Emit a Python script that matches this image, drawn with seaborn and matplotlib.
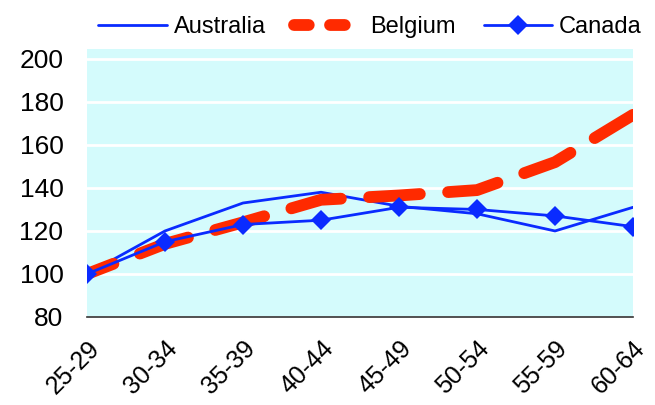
import matplotlib
matplotlib.use("Agg")
import matplotlib.pyplot as plt
from matplotlib.lines import Line2D
import seaborn as sns
import pandas as pd

age_groups = ["25-29", "30-34", "35-39", "40-44", "45-49", "50-54", "55-59", "60-64"]
australia = [100, 120, 133, 138, 131.5, 128, 120, 131]
belgium = [100, 114, 124, 134.5, 136.5, 139, 152, 174]
canada = [100, 115, 123, 125, 131, 130, 127, 122]
y_ticks = [80, 100, 120, 140, 160, 180, 200]

sns.set_theme(style="white")
plt.rcParams['font.family'] = ['Liberation Sans', 'DejaVu Sans']
plt.rcParams['text.color'] = 'black'
plt.rcParams['xtick.color'] = 'black'
plt.rcParams['ytick.color'] = 'black'

BLUE = "#0A2BFF"
RED = "#FF2A00"
BG = "#D4FBFC"

fig = plt.figure(figsize=(6.55, 4.05), dpi=100)
ax = fig.add_axes([87/655, 1-317/405, (633-87)/655, (317-49)/405])
ax.set_facecolor(BG)

df = pd.DataFrame({"age": age_groups, "Australia": australia,
                   "Belgium": belgium, "Canada": canada})

sns.lineplot(data=df, x="age", y="Australia", ax=ax, color=BLUE, lw=2.0,
             sort=False, legend=False)
sns.lineplot(data=df, x="age", y="Belgium", ax=ax, color=RED, lw=8.5,
             sort=False, legend=False)
bel = ax.lines[-1]
bel.set_linestyle((1.9, (4.3, 2.4)))
bel.set_dash_capstyle("round")
bel.set_solid_capstyle("round")
bel.set_dash_joinstyle("round")
sns.lineplot(data=df, x="age", y="Canada", ax=ax, color=BLUE, lw=2.0,
             marker="D", markersize=10.5, markeredgewidth=0,
             sort=False, legend=False)

ax.set_xlim(0, len(age_groups) - 1)
ax.set_ylim(80, 204.6)
ax.set_yticks(y_ticks)
ax.set_yticklabels([str(v) for v in y_ticks], fontsize=19, color="black")
ax.set_xlabel("")
ax.set_ylabel("")
ax.grid(axis="y", color="white", lw=2)
ax.set_axisbelow(True)
for s in ["left", "right", "top"]:
    ax.spines[s].set_visible(False)
ax.spines["bottom"].set_color("#333333")
ax.spines["bottom"].set_linewidth(1.2)
ax.tick_params(axis="y", length=0, pad=17)
ax.tick_params(axis="x", direction="in", length=5, width=1, color="#333333", pad=14)
ax.set_xticks(range(len(age_groups)))
ax.set_xticklabels(age_groups, rotation=45, ha="right", va="top",
                   rotation_mode="anchor", fontsize=18, color="black")

h_au = Line2D([], [], color=BLUE, lw=2.0)
h_be = Line2D([], [], color=RED, lw=8.5, linestyle=(0, (1.25, 1.8)),
              dash_capstyle="round")
h_ca = Line2D([], [], color=BLUE, lw=2.0, marker="D", markersize=10.5,
              markeredgewidth=0)
leg = ax.legend([h_au, h_be, h_ca], ["Australia", "Belgium", "Canada"],
                loc="center", bbox_to_anchor=(370/655, 1-27/405),
                bbox_transform=fig.transFigure, ncol=3, frameon=False,
                fontsize=17, handlelength=2.9, columnspacing=1.2,
                handletextpad=0.3, borderpad=0, borderaxespad=0,
                labelcolor="black")

fig.savefig("out.png", dpi=100)
